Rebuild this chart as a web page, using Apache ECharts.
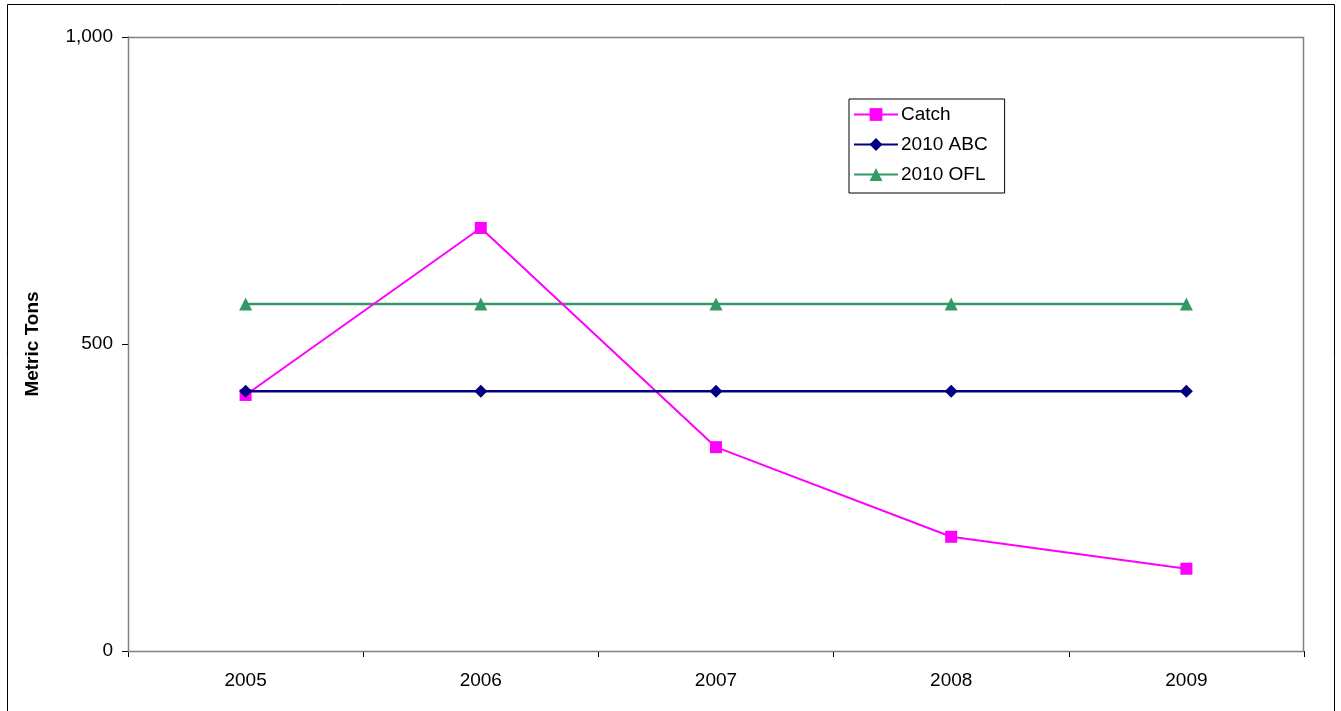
<!DOCTYPE html>
<html>
<head>
<meta charset="utf-8">
<script src="https://cdn.jsdelivr.net/npm/echarts@6/dist/echarts.min.js"></script>
<style>
html,body{margin:0;padding:0;background:#fff;}
#chart{width:1341px;height:711px;}
</style>
</head>
<body>
<div id="chart"></div>
<script>
const years = ['2005', '2006', '2007', '2008', '2009'];
const catchVals = [417, 689, 332, 186, 134];
const abcVals = [423, 423, 423, 423, 423];
const oflVals = [565, 565, 565, 565, 565];
const yTicks = [0, 500, 1000];

const chart = echarts.init(document.getElementById('chart'));
const font = 'Liberation Sans, Arial, sans-serif';
chart.setOption({
  animation: false,
  backgroundColor: '#fff',
  graphic: [
    {type: 'rect', shape: {x: 7.5, y: 4.5, width: 1327, height: 720}, style: {fill: 'none', stroke: '#000', lineWidth: 1}, z: 0},
    {type: 'rect', shape: {x: 128.5, y: 37.5, width: 1175, height: 614}, style: {fill: 'none', stroke: '#808080', lineWidth: 1.5}, z: 1}
  ],
  grid: {left: 128, top: 37, width: 1176, height: 614, containLabel: false},
  legend: {
    orient: 'vertical',
    left: 849, top: 99,
    padding: [6, 17, 9, 4],
    itemGap: 11,
    itemWidth: 44, itemHeight: 16,
    borderColor: '#000', borderWidth: 1,
    backgroundColor: '#fff',
    textStyle: {fontFamily: font, fontSize: 19, color: '#000', padding: [0, 0, 0, -2], lineHeight: 19},
    data: ['Catch', '2010 ABC', '2010 OFL']
  },
  xAxis: {
    type: 'category',
    data: years,
    boundaryGap: true,
    axisLine: {lineStyle: {color: '#000', width: 1}},
    axisTick: {show: true, length: 6, inside: false, lineStyle: {color: '#000'}},
    axisLabel: {fontFamily: font, fontSize: 19, color: '#000', margin: 20},
    splitLine: {show: false}
  },
  yAxis: {
    type: 'value',
    min: 0, max: 1000, interval: 500,
    name: 'Metric Tons',
    nameLocation: 'middle',
    nameGap: 86,
    nameTextStyle: {fontFamily: font, fontSize: 19, fontWeight: 'bold', color: '#000'},
    axisLine: {show: true, lineStyle: {color: '#000', width: 1}},
    axisTick: {show: true, length: 6, lineStyle: {color: '#000'}},
    axisLabel: {fontFamily: font, fontSize: 19, color: '#000', margin: 15,
      formatter: v => yTicks.includes(v) ? v.toLocaleString('en-US') : ''},
    splitLine: {show: false}
  },
  series: [
    {name: 'Catch', type: 'line', data: catchVals, symbol: 'rect', symbolSize: 12,
     lineStyle: {color: '#FF00FF', width: 2}, itemStyle: {color: '#FF00FF'}, z: 3},
    {name: '2010 ABC', type: 'line', data: abcVals, symbol: 'diamond', symbolSize: 13,
     lineStyle: {color: '#000080', width: 2.5}, itemStyle: {color: '#000080'}, z: 4},
    {name: '2010 OFL', type: 'line', data: oflVals, symbol: 'triangle', symbolSize: 13,
     lineStyle: {color: '#339966', width: 2.5}, itemStyle: {color: '#339966'}, z: 2}
  ]
});
</script>
</body>
</html>
